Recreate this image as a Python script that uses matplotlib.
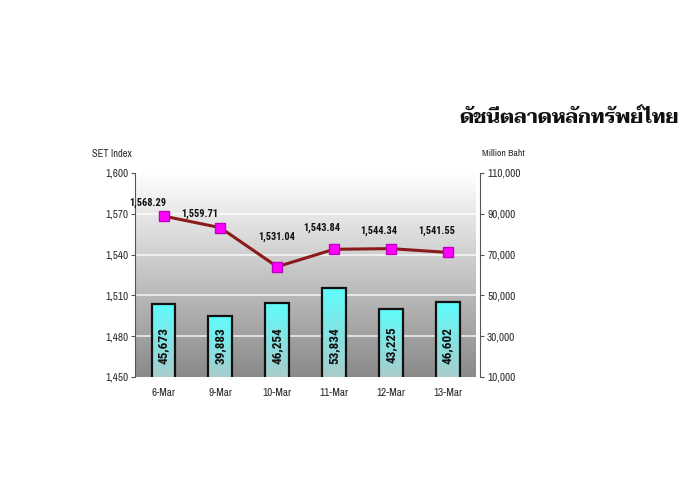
import numpy as np
import matplotlib
matplotlib.use("Agg")
import matplotlib.pyplot as plt
from matplotlib.colors import LinearSegmentedColormap

dates = ["6-Mar", "9-Mar", "10-Mar", "11-Mar", "12-Mar", "13-Mar"]
set_index = [1568.29, 1559.71, 1531.04, 1543.84, 1544.34, 1541.55]
volume = [45673, 39883, 46254, 53834, 43225, 46602]
left_ticks = [1450, 1480, 1510, 1540, 1570, 1600]
right_ticks = [10000, 30000, 50000, 70000, 90000, 110000]
title = "ดัชนีตลาดหลักทรัพย์ไทย"

NARROW = ["Archivo Narrow", "DejaVu Sans"]
BOLDN = ["Roboto Condensed", "DejaVu Sans"]
plt.rcParams["font.family"] = NARROW

fig = plt.figure(figsize=(7, 5.04), dpi=100)
ax = fig.add_axes([0.193, 0.252, 0.487, 0.405])
axb = ax.twinx()
ax.set_zorder(2)
axb.set_zorder(1)
ax.patch.set_visible(False)

x = np.arange(len(dates))

grad = np.linspace(1, 0, 256).reshape(-1, 1)
bg = LinearSegmentedColormap.from_list("bg", ["#8a8a8a", "#ffffff"])
axb.imshow(grad, aspect="auto", cmap=bg, extent=[0, 1, 0, 1],
           transform=axb.transAxes, zorder=0, vmin=0, vmax=1)
for t in right_ticks[1:]:
    axb.axhline(t, color="white", lw=1.2, alpha=0.8, zorder=0.5)

bw = 0.42
barcm = LinearSegmentedColormap.from_list("bar", ["#a9cccc", "#5ffcfc"])
for xi, v in zip(x, volume):
    axb.imshow(np.linspace(1, 0, 128).reshape(-1, 1), aspect="auto", cmap=barcm,
               extent=[xi - bw / 2, xi + bw / 2, right_ticks[0], v], zorder=1,
               vmin=0, vmax=1)
axb.bar(x, volume, width=bw, bottom=0, facecolor="none",
        edgecolor="#111111", lw=1.6, zorder=2)
axb.set_ylim(right_ticks[0], right_ticks[-1])
axb.set_xlim(-0.5, len(dates) - 0.5)
for xi, v in zip(x, volume):
    axb.text(xi, 25600, f"{v:,}", rotation=90, ha="center", va="center",
             fontsize=9.5, fontweight="bold", color="#111111", zorder=3,
             family=BOLDN)

ax.plot(x, set_index, color="#8b1a1a", lw=2.2, marker="s", markersize=7,
        markerfacecolor="#ff00ff", markeredgecolor="#c000c0", zorder=5)
offsets = [(-11, 6), (-15, 6), (0, 18), (-9, 12), (-9, 9), (-8, 11.5)]
for xi, v, (dx, dy) in zip(x, set_index, offsets):
    ax.annotate(f"{v:,.2f}", (xi, v), xytext=(dx, dy), textcoords="offset points",
                ha="center", va="bottom", fontsize=7.5, fontweight="bold",
                color="#111111", family=BOLDN)

ax.set_xlim(-0.5, len(dates) - 0.5)
ax.set_ylim(left_ticks[0], left_ticks[-1])
ax.set_xticks(x)
ax.set_xticklabels(dates)
ax.set_yticks(left_ticks)
ax.set_yticklabels([f"{t:,}" for t in left_ticks])
axb.set_yticks(right_ticks)
axb.set_yticklabels([f"{t:,}" for t in right_ticks])

for a in (ax, axb):
    for s in a.spines.values():
        s.set_visible(False)
ax.spines["left"].set_visible(True)
ax.spines["left"].set_color("#555555")
axb.spines["right"].set_visible(True)
axb.spines["right"].set_color("#555555")
axb.spines["right"].set_position(("outward", 3))
ax.tick_params(axis="y", length=3, color="#555555", labelsize=8, labelcolor="#2a2a2a", pad=2)
axb.tick_params(axis="y", length=3, color="#555555", labelsize=8, labelcolor="#2a2a2a", pad=2)
ax.tick_params(axis="x", length=0, labelsize=8, labelcolor="#2a2a2a", pad=8)

fig.text(0.131, 0.695, "SET Index", fontsize=7.5, color="#2a2a2a", ha="left",
         va="center")
fig.text(0.688, 0.695, "Million Baht", fontsize=7, color="#2a2a2a", ha="left",
         va="center")

fig.text(0.813, 0.766, title, fontsize=14.2, fontweight="bold",
         family=["Taviraj", "DejaVu Sans"], ha="center", va="center", color="#111111")

fig.savefig("out.png", dpi=100)
